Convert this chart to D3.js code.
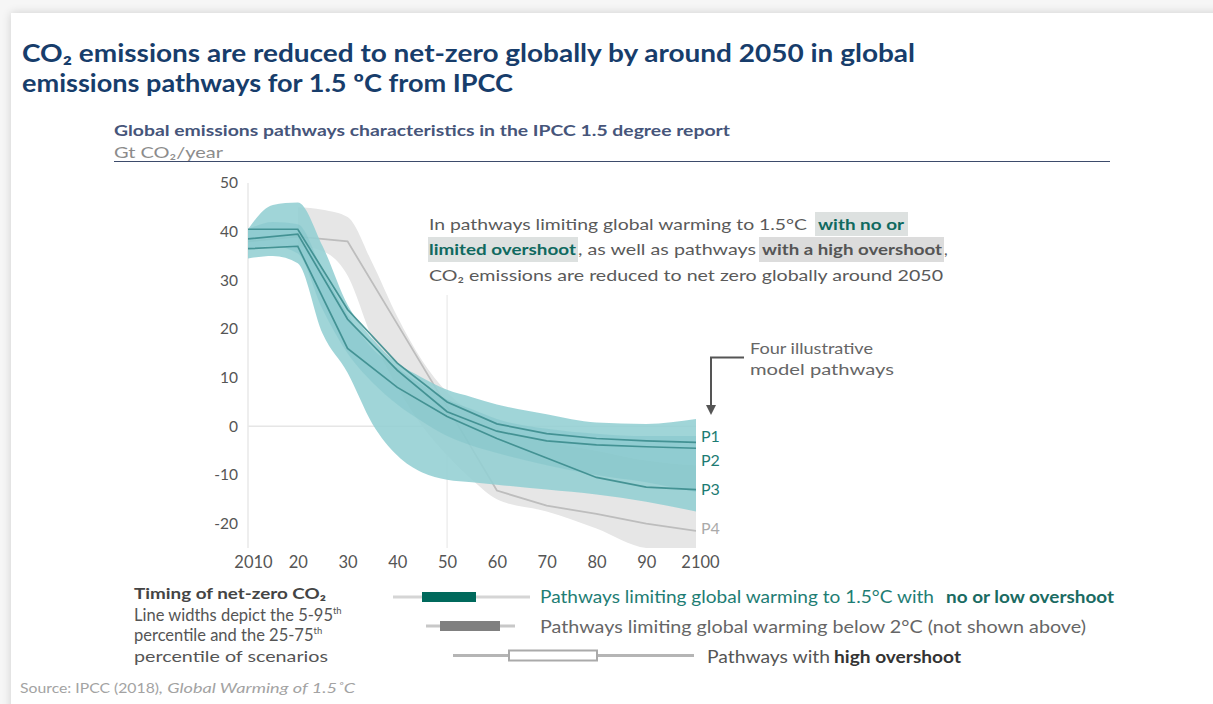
<!DOCTYPE html>
<html>
<head>
<meta charset="utf-8">
<script src="https://cdn.jsdelivr.net/npm/d3@7"></script>
<style>
  body { margin: 0; background: #f6f6f6; overflow: hidden; }
  .card { position: absolute; left: 11px; top: 13px; width: 1300px; height: 800px; background: #fff;
          box-shadow: 0 0 9px rgba(0,0,0,0.16); }
  svg { position: absolute; left: 0; top: 0; font-family: Lato, "Noto Sans", sans-serif; }
</style>
</head>
<body>
<div class="card"></div>
<svg id="chart" width="1213" height="704"></svg>
<script>
// ---- data (Gt CO2 / year) ----
var bandYears = [2010, 2015, 2020, 2025, 2030, 2035, 2040, 2045, 2050, 2055, 2060, 2070, 2080, 2090, 2100];
var teal95Hi = [40.5, 45.5, 46, 37, 25, 18, 13, 10, 7.5, 6, 4.5, 2.5, 0.8, 0.5, 1.5];
var teal95Lo = [34.5, 35, 33.5, 19, 11, 0.5, -6, -9.5, -11, -11.5, -12, -13, -14, -15.5, -17.5];
var teal75Hi = [40.5, 42, 41.5, 32, 23, 16, 12, 8.5, 5.5, 3.5, 1.5, -0.5, -1.5, -2, -2];
var teal75Lo = [36.5, 37, 35.5, 24, 15, 9, 4.5, 1, -2, -4, -5.5, -8, -10, -11.5, -13.5];

var greyYears = [2020, 2025, 2030, 2035, 2040, 2045, 2050, 2055, 2060, 2070, 2080, 2090, 2100];
var greyHi = [45, 44.5, 43, 33.5, 22.5, 13.5, 7, 3, 0, -3, -5, -7, -8];
var greyLo = [37, 36, 31, 18, 8, 0, -6, -11, -15, -17.5, -21, -25, -25.5];

var lineYears = [2010, 2020, 2030, 2040, 2050, 2060, 2070, 2080, 2090, 2100];
var p1 = [40.5, 40.5, 24, 13, 5, 0.5, -1.5, -2.5, -3, -3.3];
var p2 = [38.5, 39.5, 22, 11.5, 3, -1, -3, -3.8, -4.2, -4.5];
var p3 = [36.5, 37, 16, 8, 2, -2.5, -6.5, -10.5, -12.5, -13];
var p4 = [38, 39, 38, 21, 4, -13.2, -16.3, -18, -20, -21.5];
var pathNames = ["P1", "P2", "P3", "P4"];
var pathEnds = [-2, -7, -13, -21];   // label positions

var yTicks = [50, 40, 30, 20, 10, 0, -10, -20];
var xTicks = [2010, 2020, 2030, 2040, 2050, 2060, 2070, 2080, 2090, 2100];
var xTickLabels = ["2010", "20", "30", "40", "50", "60", "70", "80", "90", "2100"];

var svg = d3.select("#chart");

var x = d3.scaleLinear().domain([2010, 2100]).range([248, 696]);
var y = d3.scaleLinear().domain([-25, 50]).range([548, 183]);

// text helper: squeeze/stretch to a given width
function txt(g, str, px, py, w, opts) {
    opts = opts || {};
    var t = g.append("text")
        .attr("x", px).attr("y", py)
        .attr("font-size", opts.size || 16)
        .attr("font-weight", opts.bold ? "bold" : "normal")
        .attr("font-style", opts.italic ? "italic" : "normal")
        .attr("fill", opts.fill || "#555")
        .text(str);
    if (w) t.attr("textLength", w).attr("lengthAdjust", "spacingAndGlyphs");
    return t;
}

// titles
txt(svg, "CO₂ emissions are reduced to net-zero globally by around 2050 in global", 22, 62, 893, {size: 25, bold: true, fill: "#173d6b"});
txt(svg, "emissions pathways for 1.5 ºC from IPCC", 22, 92, 491, {size: 25, bold: true, fill: "#173d6b"});
txt(svg, "Global emissions pathways characteristics in the IPCC 1.5 degree report", 114, 136, 616, {size: 15.5, bold: true, fill: "#46557a"});
txt(svg, "Gt CO₂/year", 114, 158, 109, {size: 16, fill: "#8c8c8c"});
svg.append("line").attr("x1", 114).attr("x2", 1110).attr("y1", 161.5).attr("y2", 161.5)
    .attr("stroke", "#3d4b6b").attr("stroke-width", 1);

// faint grid
svg.append("line").attr("x1", x(2010)).attr("x2", x(2100)).attr("y1", y(0)).attr("y2", y(0))
    .attr("stroke", "#e6e6e6").attr("stroke-width", 1.5);
svg.append("line").attr("x1", x(2050)).attr("x2", x(2050)).attr("y1", y(27)).attr("y2", y(-25))
    .attr("stroke", "#eeeeee").attr("stroke-width", 1.5);
svg.append("line").attr("x1", x(2010)).attr("x2", x(2010)).attr("y1", y(50)).attr("y2", y(-25))
    .attr("stroke", "#e8e8e8").attr("stroke-width", 1.5);

svg.append("clipPath").attr("id", "plotclip").append("rect")
    .attr("x", x(2010)).attr("y", y(50)).attr("width", x(2100) - x(2010)).attr("height", y(-25) - y(50));
var plot = svg.append("g").attr("clip-path", "url(#plotclip)");

function band(years, hi, lo) {
    return d3.area()
        .x(function (d, i) { return x(years[i]); })
        .y0(function (d, i) { return y(lo[i]); })
        .y1(function (d, i) { return y(hi[i]); })
        .curve(d3.curveMonotoneX)(years);
}
var line = function (vals) {
    return d3.line()
        .x(function (d, i) { return x(lineYears[i]); })
        .y(function (d) { return y(d); })(vals);
};

// high overshoot band + P4
plot.append("path").attr("d", band(greyYears, greyHi, greyLo)).attr("fill", "#e6e6e6");
plot.append("path").attr("d", line(p4)).attr("fill", "none").attr("stroke", "#bdbdbd").attr("stroke-width", 1.8);

// 1.5 no/low overshoot bands
plot.append("path").attr("d", band(bandYears, teal95Hi, teal95Lo)).attr("fill", "#93cfd3").attr("opacity", 0.88);
plot.append("path").attr("d", band(bandYears, teal75Hi, teal75Lo)).attr("fill", "#6cb9bf").attr("opacity", 0.3);
[p1, p2, p3].forEach(function (p) {
    plot.append("path").attr("d", line(p)).attr("fill", "none")
        .attr("stroke", "#3b8c8d").attr("stroke-width", 1.7).attr("opacity", 0.9);
});

// axes
var yAxis = svg.append("g").attr("transform", "translate(" + x(2010) + ",0)")
    .call(d3.axisLeft(y).tickValues(yTicks).tickSize(0).tickPadding(10).tickFormat(function (d) { return String(d); }));
var xAxis = svg.append("g").attr("transform", "translate(0," + y(-25) + ")")
    .call(d3.axisBottom(x).tickValues(xTicks).tickSize(0).tickPadding(8)
        .tickFormat(function (d, i) { return xTickLabels[i]; }));
[yAxis, xAxis].forEach(function (a) {
    a.select(".domain").remove();
    a.selectAll("text").attr("font-family", "Lato, sans-serif").attr("fill", "#555");
});
yAxis.selectAll("text").attr("font-size", 15.5);
xAxis.selectAll("text").attr("font-size", 16.5);
xAxis.selectAll("text").filter(function (d) { return d === 2010; }).attr("dx", 5);
xAxis.selectAll("text").filter(function (d) { return d === 2100; }).attr("dx", 4);

// path labels
pathNames.forEach(function (n, i) {
    svg.append("text").attr("x", 701).attr("y", y(pathEnds[i])).attr("dy", "0.35em")
        .attr("font-size", 16).attr("fill", i < 3 ? "#1d7b73" : "#aaaaaa").text(n);
});

// annotation with highlights
svg.append("rect").attr("x", 815).attr("y", 212).attr("width", 93).attr("height", 24).attr("fill", "#dde1e0");
svg.append("rect").attr("x", 428).attr("y", 237).attr("width", 150).attr("height", 25).attr("fill", "#dde1e0");
svg.append("rect").attr("x", 759).attr("y", 237).attr("width", 185).attr("height", 25).attr("fill", "#dcdcdc");
txt(svg, "In pathways limiting global warming to 1.5°C", 429, 230, 378, {size: 16, fill: "#5a5a5a"});
txt(svg, "with no or", 818, 230, 86, {size: 16, bold: true, fill: "#10695f"});
txt(svg, "limited overshoot", 429, 255, 147, {size: 16, bold: true, fill: "#10695f"});
txt(svg, ", as well as pathways", 578, 255, 178, {size: 16, fill: "#5a5a5a"});
txt(svg, "with a high overshoot", 762, 255, 180, {size: 16, bold: true, fill: "#555"});
txt(svg, ",", 944, 255, null, {size: 16, fill: "#5a5a5a"});
txt(svg, "CO₂ emissions are reduced to net zero globally around 2050", 429, 281, 514, {size: 16, fill: "#5a5a5a"});

// four illustrative pathways callout
txt(svg, "Four illustrative", 750, 354, 123, {size: 16, fill: "#666"});
txt(svg, "model pathways", 750, 375, 144, {size: 16, fill: "#666"});
svg.append("defs").append("marker").attr("id", "arr").attr("viewBox", "0 0 10 10")
    .attr("refX", 5).attr("refY", 5).attr("markerWidth", 5).attr("markerHeight", 5).attr("orient", "auto")
    .append("path").attr("d", "M0,0L10,5L0,10z").attr("fill", "#555");
svg.append("path").attr("d", "M744,357.5H711V410").attr("fill", "none")
    .attr("stroke", "#555").attr("stroke-width", 2).attr("marker-end", "url(#arr)");

// legend
txt(svg, "Timing of net-zero CO₂", 134, 599, 192, {size: 15, bold: true, fill: "#444"});
["Line widths depict the 5-95", "percentile and the 25-75"].forEach(function (s, i) {
    var t = svg.append("text").attr("x", 134).attr("y", 621 + i * 20)
        .attr("font-size", 16.5).attr("fill", "#555").text(s);
    t.append("tspan").attr("dy", -7).attr("font-size", 9.5).text("th");
});
txt(svg, "percentile of scenarios", 134, 662, 194, {size: 16, fill: "#555"});

var legendRows = [
    {y: 597, x0: 393, x1: 530, b0: 422, b1: 476, lineC: "#d5d5d5", boxFill: "#00695c", boxStroke: "none"},
    {y: 626, x0: 426, x1: 515, b0: 440, b1: 500, lineC: "#c8c8c8", boxFill: "#808080", boxStroke: "none"},
    {y: 655.5, x0: 453, x1: 694, b0: 509, b1: 597, lineC: "#b5b5b5", boxFill: "#fff", boxStroke: "#aaa"}
];
legendRows.forEach(function (r) {
    svg.append("line").attr("x1", r.x0).attr("x2", r.x1).attr("y1", r.y).attr("y2", r.y)
        .attr("stroke", r.lineC).attr("stroke-width", 3);
    svg.append("rect").attr("x", r.b0).attr("y", r.y - 5).attr("width", r.b1 - r.b0).attr("height", 10)
        .attr("fill", r.boxFill).attr("stroke", r.boxStroke).attr("stroke-width", 2);
});
txt(svg, "Pathways limiting global warming to 1.5°C with", 540, 603, 394, {size: 16.5, fill: "#1e7d74"});
txt(svg, "no or low overshoot", 946, 603, 168, {size: 16.5, bold: true, fill: "#1a6b62"});
txt(svg, "Pathways limiting global warming below 2°C (not shown above)", 540, 633, 546, {size: 16.5, fill: "#666"});
txt(svg, "Pathways with", 707, 663, 123, {size: 16.5, fill: "#555"});
txt(svg, "high overshoot", 834, 663, 127, {size: 16.5, bold: true, fill: "#333"});

// source
txt(svg, "Source: IPCC (2018)", 20, 693, 139, {size: 13, fill: "#a3a3a3"});
txt(svg, ", Global Warming of 1.5˚C", 159, 693, 196, {size: 13, italic: true, fill: "#a3a3a3"});
</script>
</body>
</html>
